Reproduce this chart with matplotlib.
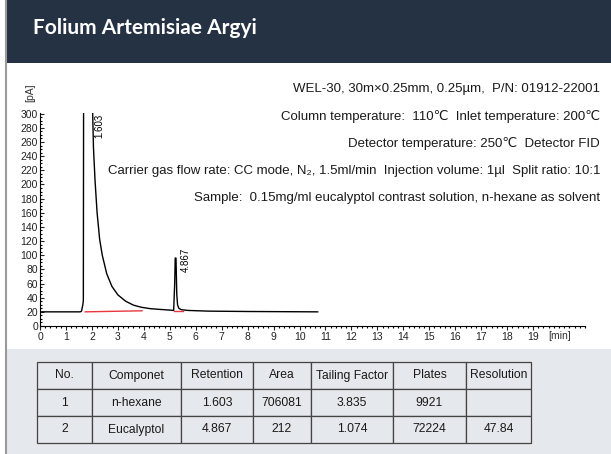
import matplotlib
matplotlib.use('Agg')
import matplotlib.pyplot as plt
from matplotlib.patches import Rectangle
from matplotlib.lines import Line2D
from matplotlib.ticker import MultipleLocator

W, H = 611, 454

title = 'Folium Artemisiae Argyi'

# chromatogram trace (time in min, signal in pA)
trace_t = [0.0, 1.55, 1.60, 1.65, 1.67, 1.68, 1.75, 2.00, 2.03, 2.06, 2.12, 2.20,
           2.30, 2.40, 2.57, 2.77, 3.00, 3.30, 3.60, 3.90, 4.25, 4.60, 5.00,
           5.15, 5.19, 5.21, 5.24, 5.27, 5.30, 5.35, 5.45, 5.70, 6.50, 8.00, 10.70]
trace_v = [20, 20, 21, 30, 36, 330, 400, 330, 300, 252, 206, 160,
           122, 100, 74, 56, 44, 35, 29.5, 26.5, 24.5, 23.5, 22.5,
           22, 60, 96, 96, 45, 30, 25, 23, 22, 21, 20.5, 20]

# integration baselines (red)
base1_t = [1.74, 3.93]
base1_v = [20, 21.5]
base2_t = [5.17, 5.50]
base2_v = [21.5, 21.5]

peak_rt = ['1.603', '4.867']
peak_x = [1.85, 5.24]
peak_top = [300, 96]

info_lines = [
    'WEL-30, 30m×0.25mm, 0.25µm,  P/N: 01912-22001',
    'Column temperature:  110℃  Inlet temperature: 200℃',
    'Detector temperature: 250℃  Detector FID',
    'Carrier gas flow rate: CC mode, N₂, 1.5ml/min  Injection volume: 1µl  Split ratio: 10:1',
    'Sample:  0.15mg/ml eucalyptol contrast solution, n-hexane as solvent',
]

col_labels = ['No.', 'Componet', 'Retention', 'Area', 'Tailing Factor', 'Plates', 'Resolution']
row_no = ['1', '2']
components = ['n-hexane', 'Eucalyptol']
retention = ['1.603', '4.867']
area = ['706081', '212']
tailing = ['3.835', '1.074']
plates = ['9921', '72224']
resolution = ['', '47.84']

fonts = ['Liberation Sans', 'DejaVu Sans']
plt.rcParams['font.family'] = fonts


def fx(px):
    return px / W


def fy(py):
    return 1 - py / H


fig = plt.figure(figsize=(W / 100, H / 100), dpi=100)
fig.patch.set_facecolor('white')

# header band and grey footer
fig.patches.append(Rectangle((fx(7), fy(63)), 1, 63 / H, transform=fig.transFigure,
                             facecolor='#253243', edgecolor='none', zorder=-5))
fig.patches.append(Rectangle((fx(7), 0), 1, (H - 349) / H, transform=fig.transFigure,
                             facecolor='#e5e8ec', edgecolor='none', zorder=-5))
fig.lines.append(Line2D([fx(6), fx(6)], [0, 1], transform=fig.transFigure,
                        color='#9a9a9a', lw=1.5, zorder=-4))

fig.text(fx(33), fy(28), title, color='white', fontsize=15, fontweight='bold',
         family=['Lato', 'DejaVu Sans'], va='center', ha='left')

# chromatogram
ax = fig.add_axes([fx(40), fy(326), 545 / W, 213 / H])
ax.plot(trace_t, trace_v, color='black', lw=1.0)
ax.plot(base1_t, base1_v, color='#e8383d', lw=1.0)
ax.plot(base2_t, base2_v, color='#e8383d', lw=1.0)
ax.set_xlim(0, 21)
ax.set_ylim(0, 301)
ax.spines['top'].set_visible(False)
ax.spines['right'].set_visible(False)
ax.xaxis.set_minor_locator(MultipleLocator(0.2))
ax.yaxis.set_major_locator(MultipleLocator(20))
ax.yaxis.set_minor_locator(MultipleLocator(5))
ax.set_xticks(range(0, 20))
ax.tick_params(axis='both', which='major', labelsize=7.5, length=3, width=0.8,
               direction='out', pad=1.5, colors='#222222')
ax.tick_params(axis='both', which='minor', length=1.5, width=0.8, direction='out')
ax.tick_params(axis='y', which='both', direction='in')
ax.text(19.6, -7, '[min]', fontsize=7.5, va='top', ha='left', color='#333333')
fig.text(fx(30), fy(93), '[pA]', fontsize=7.5, rotation=90, ha='center', va='center',
         color='#333333')

ax.text(peak_x[0] + 0.45, peak_top[0], peak_rt[0], rotation=90, fontsize=7,
        ha='center', va='top')
ax.text(peak_x[1] + 0.36, peak_top[1] + 15, peak_rt[1], rotation=90, fontsize=7,
        ha='center', va='top')

# method information
for i, line in enumerate(info_lines):
    fig.text(fx(600), fy(89 + i * 27.2), line, fontsize=9.5, ha='right', va='center',
             color='#1a1a1a')

# results table
tab_ax = fig.add_axes([fx(37), fy(443), (531 - 37) / W, (443 - 362) / H])
tab_ax.axis('off')
cells = [list(r) for r in zip(row_no, components, retention, area, tailing, plates, resolution)]
col_w = [55, 89, 72, 58, 82, 73, 65]
tot = sum(col_w)
table = tab_ax.table(cellText=cells, colLabels=col_labels, cellLoc='center',
                     colWidths=[w / tot for w in col_w], bbox=[0, 0, 1, 1])
table.auto_set_font_size(False)
table.set_fontsize(8.7)
for key, cell in table.get_celld().items():
    cell.set_facecolor('#e5e8ec')
    cell.set_edgecolor('#444444')
    cell.set_linewidth(0.9)
    cell.get_text().set_color('#1a1a1a')

fig.savefig('out.png', dpi=100)
